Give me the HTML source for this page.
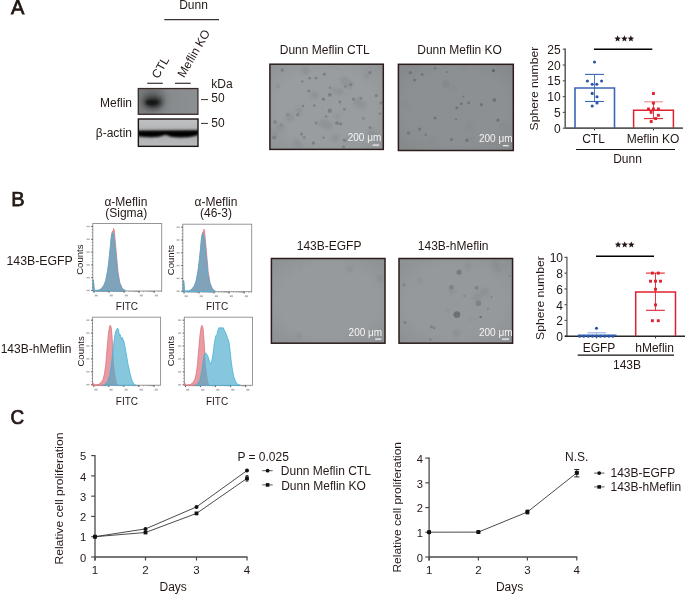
<!DOCTYPE html>
<html><head><meta charset="utf-8"><style>
html,body{margin:0;padding:0;background:#fff;}
svg{display:block;font-family:"Liberation Sans",sans-serif;will-change:transform;}
</style></head><body>
<svg width="685" height="594" viewBox="0 0 685 594">
<rect width="685" height="594" fill="#fff"/>
<text x="11.10" y="14.30" font-size="20" text-anchor="start" font-weight="normal" fill="#231815" stroke="#231815" stroke-width="0.75">A</text>
<text x="193.50" y="8.90" font-size="12" text-anchor="middle" font-weight="normal" fill="#231815" >Dunn</text>
<line x1="164.30" y1="19.60" x2="219.00" y2="19.60" stroke="#3a3230" stroke-width="1.1" />
<text transform="translate(158.2,79.3) rotate(-60)" font-size="12" fill="#231815">CTL</text>
<text transform="translate(184.1,78.3) rotate(-60)" font-size="12" fill="#231815">Meflin KO</text>
<line x1="147.20" y1="83.30" x2="162.80" y2="83.30" stroke="#3a3230" stroke-width="1.2" />
<line x1="175.00" y1="83.30" x2="190.70" y2="83.30" stroke="#3a3230" stroke-width="1.2" />
<text x="211.30" y="88.00" font-size="12" text-anchor="start" font-weight="normal" fill="#231815" >kDa</text>
<line x1="201.00" y1="99.60" x2="208.00" y2="99.60" stroke="#3a3230" stroke-width="1" />
<text x="211.30" y="102.30" font-size="12" text-anchor="start" font-weight="normal" fill="#231815" >50</text>
<line x1="201.00" y1="123.40" x2="208.00" y2="123.40" stroke="#3a3230" stroke-width="1" />
<text x="211.30" y="127.20" font-size="12" text-anchor="start" font-weight="normal" fill="#231815" >50</text>
<text x="132.00" y="106.70" font-size="12" text-anchor="end" font-weight="normal" fill="#231815" >Meflin</text>
<text x="132.00" y="137.00" font-size="12" text-anchor="end" font-weight="normal" fill="#231815" >β-actin</text>
<defs>
<filter id="b2" x="-50%" y="-50%" width="200%" height="200%"><feGaussianBlur stdDeviation="2.2"/></filter>
<filter id="b1" x="-50%" y="-50%" width="200%" height="200%"><feGaussianBlur stdDeviation="1.2"/></filter>
<filter id="b05" x="-50%" y="-50%" width="200%" height="200%"><feGaussianBlur stdDeviation="0.6"/></filter>
<filter id="b08" x="-50%" y="-50%" width="200%" height="200%"><feGaussianBlur stdDeviation="0.75"/></filter>
<filter id="b15" x="-50%" y="-50%" width="200%" height="200%"><feGaussianBlur stdDeviation="1.6"/></filter>
<filter id="b3" x="-50%" y="-50%" width="200%" height="200%"><feGaussianBlur stdDeviation="3.5"/></filter>
<linearGradient id="blot1g" x1="0" x2="1" y1="0" y2="0"><stop offset="0" stop-color="#7a7e80"/><stop offset="0.5" stop-color="#878b8d"/><stop offset="1" stop-color="#8c9092"/></linearGradient>
<linearGradient id="blot2g" x1="0" x2="0" y1="0" y2="1"><stop offset="0" stop-color="#bfc1c2"/><stop offset="0.3" stop-color="#b6b8b9"/><stop offset="0.4" stop-color="#9c9e9f"/><stop offset="0.45" stop-color="#666"/><stop offset="0.52" stop-color="#777"/><stop offset="0.56" stop-color="#a2a4a5"/><stop offset="0.72" stop-color="#b0b2b3"/><stop offset="1" stop-color="#b9bbbc"/></linearGradient>
<clipPath id="cb1"><rect x="138.3" y="88.55" width="59.6" height="25.75"/></clipPath>
<clipPath id="cb2"><rect x="138.35" y="119" width="59.65" height="27.35"/></clipPath>
</defs>
<g clip-path="url(#cb1)"><rect x="138.3" y="88.55" width="59.6" height="25.75" fill="url(#blot1g)"/><ellipse cx="153" cy="100" rx="12" ry="11" fill="#4a4a4a" opacity="0.55" filter="url(#b3)"/><ellipse cx="153" cy="102.3" rx="9" ry="5.5" fill="#262626" opacity="0.9" filter="url(#b2)"/><ellipse cx="152" cy="102.6" rx="5.5" ry="1.8" fill="#080808" filter="url(#b1)"/></g>
<rect x="138.3" y="88.55" width="59.6" height="25.75" fill="none" stroke="#3a2a28" stroke-width="1.3"/>
<g clip-path="url(#cb2)"><rect x="138.35" y="119" width="59.65" height="27.35" fill="url(#blot2g)"/><path d="M136,130.9 L200,130.4 L200,134.0 C196,136.5 188,137.6 180,137.4 C174,137.3 169.5,136.6 167.5,135.4 C166.5,134.8 165,134.8 164,135.3 C161,136.8 156,137.4 150,137.2 C144,137 139,136.4 136,136 Z" fill="#030303" filter="url(#b1)"/></g>
<rect x="138.35" y="119" width="59.65" height="27.35" fill="none" stroke="#1a1616" stroke-width="1.4"/>
<defs><radialGradient id="vig" cx="0.5" cy="0.5" r="0.7"><stop offset="0.6" stop-color="#000" stop-opacity="0"/><stop offset="1" stop-color="#000" stop-opacity="0.06"/></radialGradient></defs>
<clipPath id="cma1"><rect x="269.9" y="64.2" width="113.40" height="85.20"/></clipPath>
<g clip-path="url(#cma1)"><rect x="269.9" y="64.2" width="113.40" height="85.20" fill="#999da0"/>
<rect x="269.9" y="64.2" width="113.40" height="85.20" fill="url(#vig)"/>
<g filter="url(#b15)" opacity="0.5">
<circle cx="299.0" cy="110.2" r="3.2" fill="#868a8d"/>
<circle cx="337.6" cy="116.5" r="2.6" fill="#868a8d"/>
<circle cx="275.3" cy="132.9" r="3.0" fill="#868a8d"/>
<circle cx="298.6" cy="145.1" r="3.4" fill="#868a8d"/>
<circle cx="362.1" cy="105.0" r="3.8" fill="#868a8d"/>
<circle cx="289.8" cy="117.2" r="4.2" fill="#868a8d"/>
<circle cx="329.0" cy="125.4" r="3.8" fill="#868a8d"/>
<circle cx="280.6" cy="126.7" r="3.7" fill="#868a8d"/>
<circle cx="305.7" cy="70.6" r="4.2" fill="#868a8d"/>
<circle cx="323.7" cy="123.7" r="4.3" fill="#868a8d"/>
<circle cx="349.2" cy="139.3" r="3.3" fill="#868a8d"/>
<circle cx="358.3" cy="102.5" r="4.4" fill="#868a8d"/>
<circle cx="366.5" cy="75.7" r="2.8" fill="#868a8d"/>
<circle cx="296.8" cy="142.7" r="3.4" fill="#868a8d"/>
<circle cx="339.9" cy="91.4" r="3.5" fill="#868a8d"/>
<circle cx="314.6" cy="95.3" r="3.7" fill="#868a8d"/>
<circle cx="335.5" cy="138.0" r="3.9" fill="#868a8d"/>
<circle cx="371.8" cy="134.3" r="4.5" fill="#868a8d"/>
<circle cx="344.7" cy="80.8" r="4.2" fill="#868a8d"/>
<circle cx="375.6" cy="138.0" r="3.6" fill="#868a8d"/>
<circle cx="349.1" cy="84.5" r="4.2" fill="#868a8d"/>
<circle cx="334.4" cy="90.2" r="2.6" fill="#868a8d"/>
</g>
<g filter="url(#b08)">
<circle cx="282.3" cy="70.0" r="1.8" fill="#7c8184"/>
<circle cx="324.3" cy="74.2" r="1.6" fill="#7c8184"/>
<circle cx="370.0" cy="72.8" r="1.8" fill="#7c8184"/>
<circle cx="309.7" cy="78.2" r="1.4" fill="#7c8184"/>
<circle cx="316.1" cy="78.2" r="1.4" fill="#7c8184"/>
<circle cx="302.4" cy="81.5" r="1.2" fill="#7c8184"/>
<circle cx="277.8" cy="86.5" r="2.2" fill="#8f9396"/>
<circle cx="350.8" cy="84.6" r="1.6" fill="#7c8184"/>
<circle cx="345.3" cy="86.5" r="1.3" fill="#7c8184"/>
<circle cx="329.8" cy="87.7" r="1.2" fill="#7c8184"/>
<circle cx="308.8" cy="91.0" r="1.6" fill="#7c8184"/>
<circle cx="329.8" cy="94.7" r="2" fill="#7c8184"/>
<circle cx="376.3" cy="95.6" r="1.6" fill="#7c8184"/>
<circle cx="323.4" cy="99.2" r="1.8" fill="#7c8184"/>
<circle cx="353.5" cy="99.2" r="1.6" fill="#7c8184"/>
<circle cx="360.8" cy="98.3" r="1.4" fill="#7c8184"/>
<circle cx="380.9" cy="102.9" r="1.6" fill="#7c8184"/>
<circle cx="339.8" cy="102.0" r="1.4" fill="#7c8184"/>
<circle cx="314.3" cy="105.6" r="1.3" fill="#7c8184"/>
<circle cx="303.0" cy="106.0" r="1.3" fill="#7c8184"/>
<circle cx="329.8" cy="110.7" r="2.2" fill="#7c8184"/>
<circle cx="344.4" cy="109.3" r="1.4" fill="#7c8184"/>
<circle cx="326.1" cy="116.6" r="1.4" fill="#7c8184"/>
<circle cx="380.0" cy="113.8" r="1.4" fill="#7c8184"/>
<circle cx="297.8" cy="114.7" r="1.6" fill="#7c8184"/>
<circle cx="275.0" cy="122.0" r="1.8" fill="#7c8184"/>
<circle cx="281.4" cy="124.8" r="1.6" fill="#888c8f"/>
<circle cx="316.1" cy="123.0" r="1.5" fill="#7c8184"/>
<circle cx="337.1" cy="123.0" r="2" fill="#7c8184"/>
<circle cx="340.7" cy="123.9" r="1.6" fill="#7c8184"/>
<circle cx="363.5" cy="118.4" r="1.8" fill="#8a8e91"/>
<circle cx="370.0" cy="127.5" r="1.5" fill="#7c8184"/>
<circle cx="301.5" cy="133.9" r="1.5" fill="#7c8184"/>
<circle cx="304.2" cy="137.6" r="1.8" fill="#878b8e"/>
<circle cx="274.1" cy="137.6" r="2" fill="#7c8184"/>
<circle cx="313.4" cy="143.0" r="1.8" fill="#7c8184"/>
<circle cx="344.4" cy="140.3" r="1.8" fill="#7c8184"/>
<circle cx="343.5" cy="146.7" r="1.5" fill="#7c8184"/>
<circle cx="323.4" cy="137.6" r="1.2" fill="#7c8184"/>
<circle cx="287.8" cy="114.7" r="1.2" fill="#7c8184"/>
</g>
<g fill="#858a8d">
<circle cx="365.3" cy="146.6" r="0.5"/>
<circle cx="281.6" cy="131.2" r="0.5"/>
<circle cx="316.8" cy="78.4" r="0.5"/>
<circle cx="304.1" cy="128.6" r="0.5"/>
<circle cx="367.4" cy="69.8" r="0.5"/>
<circle cx="339.1" cy="69.8" r="0.5"/>
<circle cx="350.5" cy="93.1" r="0.5"/>
<circle cx="368.3" cy="145.8" r="0.5"/>
<circle cx="327.2" cy="147.3" r="0.5"/>
<circle cx="305.8" cy="72.5" r="0.5"/>
<circle cx="337.5" cy="68.7" r="0.5"/>
<circle cx="293.5" cy="99.3" r="0.5"/>
<circle cx="338.7" cy="78.9" r="0.5"/>
<circle cx="276.5" cy="136.7" r="0.5"/>
<circle cx="306.2" cy="144.0" r="0.5"/>
<circle cx="370.0" cy="96.9" r="0.5"/>
<circle cx="322.3" cy="108.4" r="0.5"/>
<circle cx="342.3" cy="114.6" r="0.5"/>
<circle cx="333.1" cy="116.6" r="0.5"/>
<circle cx="374.8" cy="107.4" r="0.5"/>
<circle cx="319.1" cy="124.7" r="0.5"/>
<circle cx="297.9" cy="90.6" r="0.5"/>
<circle cx="378.9" cy="108.5" r="0.5"/>
<circle cx="331.9" cy="67.1" r="0.5"/>
<circle cx="317.3" cy="113.3" r="0.5"/>
<circle cx="274.1" cy="116.2" r="0.5"/>
<circle cx="341.1" cy="71.1" r="0.5"/>
<circle cx="340.5" cy="104.1" r="0.5"/>
<circle cx="346.2" cy="94.8" r="0.5"/>
<circle cx="349.2" cy="126.1" r="0.5"/>
<circle cx="274.3" cy="71.1" r="0.5"/>
<circle cx="345.9" cy="144.4" r="0.5"/>
<circle cx="299.4" cy="103.3" r="0.5"/>
</g></g>
<rect x="269.9" y="64.2" width="113.40" height="85.20" fill="none" stroke="#2c1d1b" stroke-width="1.5"/>
<clipPath id="cma2"><rect x="398.4" y="64.3" width="114.90" height="86.20"/></clipPath>
<g clip-path="url(#cma2)"><rect x="398.4" y="64.3" width="114.90" height="86.20" fill="#8d9092"/>
<rect x="398.4" y="64.3" width="114.90" height="86.20" fill="url(#vig)"/>
<g filter="url(#b15)" opacity="0.5">
<circle cx="469.0" cy="126.3" r="4.1" fill="#868a8d"/>
<circle cx="503.1" cy="126.2" r="4.3" fill="#868a8d"/>
<circle cx="405.5" cy="104.7" r="4.4" fill="#868a8d"/>
<circle cx="471.8" cy="138.8" r="2.7" fill="#868a8d"/>
<circle cx="452.5" cy="87.6" r="3.6" fill="#868a8d"/>
<circle cx="463.8" cy="69.3" r="2.9" fill="#868a8d"/>
<circle cx="432.3" cy="140.0" r="4.0" fill="#868a8d"/>
<circle cx="419.5" cy="130.6" r="2.8" fill="#868a8d"/>
</g>
<g filter="url(#b08)">
<circle cx="410.3" cy="72.8" r="1.8" fill="#727679"/>
<circle cx="422.2" cy="74.6" r="1.5" fill="#727679"/>
<circle cx="414.5" cy="80.1" r="1.6" fill="#727679"/>
<circle cx="435.0" cy="68.2" r="1.2" fill="#727679"/>
<circle cx="493.4" cy="70.6" r="1.6" fill="#616568"/>
<circle cx="446.8" cy="71.9" r="1" fill="#727679"/>
<circle cx="494.3" cy="100.1" r="2" fill="#6f7376"/>
<circle cx="481.5" cy="104.7" r="1.6" fill="#707477"/>
<circle cx="468.7" cy="102.9" r="1.4" fill="#727679"/>
<circle cx="461.4" cy="103.8" r="1.5" fill="#727679"/>
<circle cx="456.9" cy="107.8" r="1.6" fill="#727679"/>
<circle cx="463.3" cy="96.5" r="1" fill="#727679"/>
<circle cx="435.0" cy="118.0" r="1.6" fill="#727679"/>
<circle cx="456.0" cy="119.3" r="1.1" fill="#727679"/>
<circle cx="497.9" cy="120.2" r="1.6" fill="#707477"/>
<circle cx="419.5" cy="129.0" r="1.5" fill="#727679"/>
<circle cx="408.5" cy="133.0" r="1.5" fill="#727679"/>
<circle cx="425.8" cy="134.8" r="1.2" fill="#727679"/>
<circle cx="451.4" cy="139.4" r="1.5" fill="#727679"/>
<circle cx="466.9" cy="140.3" r="1.8" fill="#727679"/>
<circle cx="445.9" cy="83.7" r="4" fill="#878a8c"/>
</g>
<g fill="#858a8d">
<circle cx="468.9" cy="76.7" r="0.5"/>
<circle cx="400.6" cy="137.9" r="0.5"/>
<circle cx="423.6" cy="84.0" r="0.5"/>
<circle cx="509.4" cy="138.0" r="0.5"/>
<circle cx="432.5" cy="145.3" r="0.5"/>
<circle cx="460.2" cy="122.0" r="0.5"/>
<circle cx="423.1" cy="143.6" r="0.5"/>
<circle cx="477.0" cy="145.8" r="0.5"/>
<circle cx="499.5" cy="90.9" r="0.5"/>
<circle cx="440.5" cy="79.9" r="0.5"/>
<circle cx="416.6" cy="71.7" r="0.5"/>
<circle cx="433.8" cy="115.9" r="0.5"/>
</g></g>
<rect x="398.4" y="64.3" width="114.90" height="86.20" fill="none" stroke="#2c1d1b" stroke-width="1.5"/>
<clipPath id="cmb1"><rect x="271.4" y="258.5" width="113.60" height="84.70"/></clipPath>
<g clip-path="url(#cmb1)"><rect x="271.4" y="258.5" width="113.60" height="84.70" fill="#969a9c"/>
<rect x="271.4" y="258.5" width="113.60" height="84.70" fill="url(#vig)"/>
<g filter="url(#b15)" opacity="0.5">
<circle cx="299.3" cy="336.3" r="2.8" fill="#868a8d"/>
<circle cx="349.8" cy="269.0" r="3.0" fill="#868a8d"/>
<circle cx="380.9" cy="278.6" r="3.8" fill="#868a8d"/>
</g>
<g filter="url(#b08)">
<circle cx="300.0" cy="270.0" r="0.8" fill="#8c9092"/>
<circle cx="330.0" cy="300.0" r="0.7" fill="#8c9092"/>
<circle cx="360.0" cy="290.0" r="0.7" fill="#8c9092"/>
<circle cx="290.0" cy="320.0" r="0.7" fill="#8c9092"/>
<circle cx="370.0" cy="330.0" r="0.8" fill="#8c9092"/>
<circle cx="282.0" cy="300.0" r="0.6" fill="#8c9092"/>
</g>
<g fill="#858a8d">
<circle cx="323.7" cy="297.1" r="0.5"/>
<circle cx="327.7" cy="276.0" r="0.5"/>
<circle cx="364.4" cy="267.7" r="0.5"/>
<circle cx="299.1" cy="262.1" r="0.5"/>
</g></g>
<rect x="271.4" y="258.5" width="113.60" height="84.70" fill="none" stroke="#2c1d1b" stroke-width="1.5"/>
<clipPath id="cmb2"><rect x="399" y="258.5" width="113.60" height="84.70"/></clipPath>
<g clip-path="url(#cmb2)"><rect x="399" y="258.5" width="113.60" height="84.70" fill="#95999b"/>
<rect x="399" y="258.5" width="113.60" height="84.70" fill="url(#vig)"/>
<g filter="url(#b15)" opacity="0.5">
<circle cx="451.9" cy="291.1" r="2.8" fill="#868a8d"/>
<circle cx="494.5" cy="263.0" r="3.5" fill="#868a8d"/>
<circle cx="497.9" cy="268.7" r="3.6" fill="#868a8d"/>
<circle cx="468.1" cy="265.6" r="3.3" fill="#868a8d"/>
<circle cx="477.3" cy="297.2" r="4.0" fill="#868a8d"/>
<circle cx="419.6" cy="280.8" r="2.7" fill="#868a8d"/>
<circle cx="456.5" cy="333.4" r="3.7" fill="#868a8d"/>
<circle cx="484.8" cy="291.9" r="4.0" fill="#868a8d"/>
</g>
<g filter="url(#b08)">
<circle cx="459.1" cy="272.2" r="2.6" fill="#787d80"/>
<circle cx="404.0" cy="285.0" r="1.8" fill="#83888b"/>
<circle cx="451.4" cy="287.2" r="2.3" fill="#7e8386"/>
<circle cx="476.6" cy="287.8" r="2" fill="#7e8386"/>
<circle cx="478.4" cy="303.3" r="2.8" fill="#7e8386"/>
<circle cx="456.9" cy="314.6" r="3.4" fill="#6c7174"/>
<circle cx="447.7" cy="310.9" r="2.5" fill="#90959a"/>
<circle cx="480.6" cy="317.0" r="1.2" fill="#6c7174"/>
<circle cx="404.9" cy="322.4" r="1.5" fill="#7c8184"/>
<circle cx="431.3" cy="327.0" r="1.4" fill="#7c8184"/>
<circle cx="434.0" cy="327.9" r="1.4" fill="#7c8184"/>
<circle cx="430.4" cy="339.8" r="1.2" fill="#7c8184"/>
<circle cx="491.5" cy="296.9" r="1" fill="#7c8184"/>
<circle cx="464.2" cy="296.0" r="1" fill="#7c8184"/>
<circle cx="509.8" cy="275.9" r="1" fill="#7c8184"/>
<circle cx="470.6" cy="319.7" r="2" fill="#90959a"/>
<circle cx="487.9" cy="308.7" r="1" fill="#7c8184"/>
</g>
<g fill="#858a8d">
<circle cx="412.1" cy="284.0" r="0.5"/>
<circle cx="474.9" cy="319.1" r="0.5"/>
<circle cx="447.2" cy="267.6" r="0.5"/>
<circle cx="430.2" cy="277.4" r="0.5"/>
<circle cx="431.8" cy="325.8" r="0.5"/>
<circle cx="422.9" cy="332.0" r="0.5"/>
<circle cx="497.4" cy="264.9" r="0.5"/>
<circle cx="442.5" cy="300.2" r="0.5"/>
<circle cx="403.6" cy="294.8" r="0.5"/>
<circle cx="500.3" cy="269.5" r="0.5"/>
<circle cx="466.4" cy="270.3" r="0.5"/>
<circle cx="464.4" cy="332.8" r="0.5"/>
</g></g>
<rect x="399" y="258.5" width="113.60" height="84.70" fill="none" stroke="#2c1d1b" stroke-width="1.5"/>
<text x="347.70" y="141.10" font-size="10" text-anchor="start" font-weight="normal" fill="#f4f4f4" >200 μm</text>
<line x1="372.70" y1="145.10" x2="379.00" y2="145.10" stroke="#f4f4f4" stroke-width="1.2" />
<text x="479.00" y="141.60" font-size="10" text-anchor="start" font-weight="normal" fill="#f4f4f4" >200 μm</text>
<line x1="502.90" y1="145.70" x2="508.60" y2="145.70" stroke="#f4f4f4" stroke-width="1.2" />
<text x="348.60" y="336.40" font-size="10" text-anchor="start" font-weight="normal" fill="#f4f4f4" >200 μm</text>
<line x1="375.20" y1="339.10" x2="381.30" y2="339.10" stroke="#f4f4f4" stroke-width="1.2" />
<text x="479.00" y="336.40" font-size="10" text-anchor="start" font-weight="normal" fill="#f4f4f4" >200 μm</text>
<line x1="502.00" y1="339.10" x2="509.00" y2="339.10" stroke="#f4f4f4" stroke-width="1.2" />
<text x="324.75" y="53.90" font-size="12" text-anchor="middle" font-weight="normal" fill="#231815" >Dunn Meflin CTL</text>
<text x="459.60" y="53.90" font-size="12" text-anchor="middle" font-weight="normal" fill="#231815" >Dunn Meflin KO</text>
<text x="329.10" y="249.80" font-size="12" text-anchor="middle" font-weight="normal" fill="#231815" >143B-EGFP</text>
<text x="453.15" y="249.80" font-size="12" text-anchor="middle" font-weight="normal" fill="#231815" >143B-hMeflin</text>
<line x1="565.20" y1="48.50" x2="565.20" y2="128.20" stroke="#5a5a5a" stroke-width="1.5" />
<line x1="562.80" y1="128.20" x2="565.20" y2="128.20" stroke="#5a5a5a" stroke-width="1.2" />
<text x="560.70" y="132.80" font-size="12" text-anchor="end" font-weight="normal" fill="#231815" >0</text>
<line x1="562.80" y1="112.40" x2="565.20" y2="112.40" stroke="#5a5a5a" stroke-width="1.2" />
<text x="560.70" y="117.00" font-size="12" text-anchor="end" font-weight="normal" fill="#231815" >5</text>
<line x1="562.80" y1="96.60" x2="565.20" y2="96.60" stroke="#5a5a5a" stroke-width="1.2" />
<text x="560.70" y="101.20" font-size="12" text-anchor="end" font-weight="normal" fill="#231815" >10</text>
<line x1="562.80" y1="80.80" x2="565.20" y2="80.80" stroke="#5a5a5a" stroke-width="1.2" />
<text x="560.70" y="85.40" font-size="12" text-anchor="end" font-weight="normal" fill="#231815" >15</text>
<line x1="562.80" y1="65.00" x2="565.20" y2="65.00" stroke="#5a5a5a" stroke-width="1.2" />
<text x="560.70" y="69.60" font-size="12" text-anchor="end" font-weight="normal" fill="#231815" >20</text>
<line x1="562.80" y1="49.20" x2="565.20" y2="49.20" stroke="#5a5a5a" stroke-width="1.2" />
<text x="560.70" y="53.80" font-size="12" text-anchor="end" font-weight="normal" fill="#231815" >25</text>
<line x1="565.20" y1="128.20" x2="682.80" y2="128.20" stroke="#5a5a5a" stroke-width="1.5" />
<line x1="594.50" y1="128.20" x2="594.50" y2="130.40" stroke="#3a3230" stroke-width="1" />
<line x1="653.50" y1="128.20" x2="653.50" y2="130.40" stroke="#3a3230" stroke-width="1" />
<text transform="translate(538.0,88.6) rotate(-90) scale(1.215,1)" font-size="10" text-anchor="middle" fill="#231815">Sphere number</text>
<path d="M575,128.2 V88 H614.5 V128.2" fill="none" stroke="#3a66b4" stroke-width="1.6"/>
<line x1="594.50" y1="74.40" x2="594.50" y2="101.50" stroke="#3a66b4" stroke-width="0.9" />
<line x1="585.00" y1="74.40" x2="604.00" y2="74.40" stroke="#3a66b4" stroke-width="1.1" />
<line x1="585.00" y1="101.50" x2="604.00" y2="101.50" stroke="#3a66b4" stroke-width="1.1" />
<circle cx="594.5" cy="62" r="1.55" fill="#2a56a6"/>
<circle cx="587.4" cy="81" r="1.55" fill="#2a56a6"/>
<circle cx="601.6" cy="81" r="1.55" fill="#2a56a6"/>
<circle cx="592.2" cy="84.3" r="1.55" fill="#2a56a6"/>
<circle cx="596.8" cy="84.3" r="1.55" fill="#2a56a6"/>
<circle cx="592.2" cy="93.4" r="1.55" fill="#2a56a6"/>
<circle cx="597" cy="96.7" r="1.55" fill="#2a56a6"/>
<circle cx="597" cy="103" r="1.55" fill="#2a56a6"/>
<circle cx="592.2" cy="106" r="1.55" fill="#2a56a6"/>
<path d="M633.6,128.2 V110.2 H673.4 V128.2" fill="none" stroke="#e0222e" stroke-width="1.5"/>
<line x1="653.50" y1="101.80" x2="653.50" y2="118.60" stroke="#e0222e" stroke-width="0.9" />
<line x1="644.00" y1="101.80" x2="663.00" y2="101.80" stroke="#f08a8e" stroke-width="1.1" />
<line x1="644.00" y1="118.60" x2="663.00" y2="118.60" stroke="#e0222e" stroke-width="1.1" />
<rect x="651.95" y="92.05" width="2.9" height="2.9" fill="#e0222e"/>
<rect x="651.95" y="101.65" width="2.9" height="2.9" fill="#e0222e"/>
<rect x="647.05" y="107.55" width="2.9" height="2.9" fill="#e0222e"/>
<rect x="651.95" y="107.55" width="2.9" height="2.9" fill="#e0222e"/>
<rect x="656.95" y="107.55" width="2.9" height="2.9" fill="#e0222e"/>
<rect x="649.65" y="110.85" width="2.9" height="2.9" fill="#e0222e"/>
<rect x="656.95" y="113.85" width="2.9" height="2.9" fill="#e0222e"/>
<rect x="654.15" y="117.15" width="2.9" height="2.9" fill="#e0222e"/>
<rect x="649.75" y="120.05" width="2.9" height="2.9" fill="#e0222e"/>
<line x1="565.20" y1="128.20" x2="682.80" y2="128.20" stroke="#5a5a5a" stroke-width="1.5" />
<line x1="594.00" y1="49.20" x2="652.30" y2="49.20" stroke="#000" stroke-width="1.35" />
<polygon points="617.60,35.30 618.50,37.46 620.83,37.65 619.06,39.17 619.60,41.45 617.60,40.23 615.60,41.45 616.14,39.17 614.37,37.65 616.70,37.46" fill="#231815"/>
<polygon points="624.40,35.30 625.30,37.46 627.63,37.65 625.86,39.17 626.40,41.45 624.40,40.23 622.40,41.45 622.94,39.17 621.17,37.65 623.50,37.46" fill="#231815"/>
<polygon points="630.90,35.30 631.80,37.46 634.13,37.65 632.36,39.17 632.90,41.45 630.90,40.23 628.90,41.45 629.44,39.17 627.67,37.65 630.00,37.46" fill="#231815"/>
<text x="593.50" y="142.50" font-size="12" text-anchor="middle" font-weight="normal" fill="#231815" >CTL</text>
<text x="653.00" y="142.50" font-size="12" text-anchor="middle" font-weight="normal" fill="#231815" >Meflin KO</text>
<line x1="576.00" y1="149.50" x2="675.00" y2="149.50" stroke="#111" stroke-width="1.2" />
<text x="627.50" y="162.60" font-size="12" text-anchor="middle" font-weight="normal" fill="#231815" >Dunn</text>
<line x1="566.90" y1="256.70" x2="566.90" y2="336.20" stroke="#7c7c7c" stroke-width="1.6" />
<line x1="564.50" y1="336.20" x2="566.90" y2="336.20" stroke="#555" stroke-width="1.2" />
<text x="563.00" y="341.20" font-size="12" text-anchor="end" font-weight="normal" fill="#231815" >0</text>
<line x1="564.50" y1="320.44" x2="566.90" y2="320.44" stroke="#555" stroke-width="1.2" />
<text x="563.00" y="325.44" font-size="12" text-anchor="end" font-weight="normal" fill="#231815" >2</text>
<line x1="564.50" y1="304.68" x2="566.90" y2="304.68" stroke="#555" stroke-width="1.2" />
<text x="563.00" y="309.68" font-size="12" text-anchor="end" font-weight="normal" fill="#231815" >4</text>
<line x1="564.50" y1="288.92" x2="566.90" y2="288.92" stroke="#555" stroke-width="1.2" />
<text x="563.00" y="293.92" font-size="12" text-anchor="end" font-weight="normal" fill="#231815" >6</text>
<line x1="564.50" y1="273.16" x2="566.90" y2="273.16" stroke="#555" stroke-width="1.2" />
<text x="563.00" y="278.16" font-size="12" text-anchor="end" font-weight="normal" fill="#231815" >8</text>
<line x1="564.50" y1="257.40" x2="566.90" y2="257.40" stroke="#555" stroke-width="1.2" />
<text x="563.00" y="262.40" font-size="12" text-anchor="end" font-weight="normal" fill="#231815" >10</text>
<line x1="564.90" y1="336.20" x2="685.00" y2="336.20" stroke="#262626" stroke-width="1.4" />
<line x1="596.50" y1="336.20" x2="596.50" y2="338.40" stroke="#3a3230" stroke-width="1" />
<line x1="655.50" y1="336.20" x2="655.50" y2="338.40" stroke="#3a3230" stroke-width="1" />
<text transform="translate(544.0,298.1) rotate(-90) scale(1.215,1)" font-size="10" text-anchor="middle" fill="#231815">Sphere number</text>
<line x1="577.90" y1="335.30" x2="616.60" y2="335.30" stroke="#3a66b4" stroke-width="1.4" />
<line x1="596.50" y1="332.80" x2="596.50" y2="336.00" stroke="#8fb0e0" stroke-width="0.9" />
<line x1="587.40" y1="332.80" x2="606.00" y2="332.80" stroke="#8fb0e0" stroke-width="1.1" />
<circle cx="579.7" cy="336.2" r="1.5" fill="#2a56a6"/>
<circle cx="583.7" cy="336.2" r="1.5" fill="#2a56a6"/>
<circle cx="588.3" cy="336.2" r="1.5" fill="#2a56a6"/>
<circle cx="592.5" cy="336.2" r="1.5" fill="#2a56a6"/>
<circle cx="596.5" cy="336.2" r="1.5" fill="#2a56a6"/>
<circle cx="600.5" cy="336.2" r="1.5" fill="#2a56a6"/>
<circle cx="604.7" cy="336.2" r="1.5" fill="#2a56a6"/>
<circle cx="608.9" cy="336.2" r="1.5" fill="#2a56a6"/>
<circle cx="612.9" cy="336.2" r="1.5" fill="#2a56a6"/>
<circle cx="596.5" cy="328.2" r="1.55" fill="#2a56a6"/>
<path d="M635.7,336.2 V292 H675.5 V336.2" fill="none" stroke="#e0222e" stroke-width="1.5"/>
<line x1="655.50" y1="273.10" x2="655.50" y2="310.30" stroke="#e0222e" stroke-width="0.9" />
<line x1="645.90" y1="273.10" x2="664.80" y2="273.10" stroke="#e0222e" stroke-width="1.1" />
<line x1="645.90" y1="310.30" x2="664.80" y2="310.30" stroke="#e0222e" stroke-width="1.1" />
<rect x="650.95" y="271.65" width="2.9" height="2.9" fill="#e0222e"/>
<rect x="656.85" y="271.65" width="2.9" height="2.9" fill="#e0222e"/>
<rect x="649.05" y="279.75" width="2.9" height="2.9" fill="#e0222e"/>
<rect x="654.05" y="279.75" width="2.9" height="2.9" fill="#e0222e"/>
<rect x="659.05" y="279.75" width="2.9" height="2.9" fill="#e0222e"/>
<rect x="654.05" y="287.85" width="2.9" height="2.9" fill="#e0222e"/>
<rect x="654.05" y="303.45" width="2.9" height="2.9" fill="#e0222e"/>
<rect x="650.95" y="319.25" width="2.9" height="2.9" fill="#e0222e"/>
<rect x="656.85" y="319.25" width="2.9" height="2.9" fill="#e0222e"/>
<line x1="596.00" y1="256.20" x2="654.00" y2="256.20" stroke="#000" stroke-width="1.35" />
<polygon points="618.10,241.40 619.00,243.56 621.33,243.75 619.56,245.27 620.10,247.55 618.10,246.33 616.10,247.55 616.64,245.27 614.87,243.75 617.20,243.56" fill="#231815"/>
<polygon points="624.70,241.40 625.60,243.56 627.93,243.75 626.16,245.27 626.70,247.55 624.70,246.33 622.70,247.55 623.24,245.27 621.47,243.75 623.80,243.56" fill="#231815"/>
<polygon points="631.30,241.40 632.20,243.56 634.53,243.75 632.76,245.27 633.30,247.55 631.30,246.33 629.30,247.55 629.84,245.27 628.07,243.75 630.40,243.56" fill="#231815"/>
<text x="599.00" y="352.00" font-size="12" text-anchor="middle" font-weight="normal" fill="#231815" >EGFP</text>
<text x="654.60" y="352.00" font-size="12" text-anchor="middle" font-weight="normal" fill="#231815" >hMeflin</text>
<line x1="577.70" y1="355.20" x2="674.00" y2="355.20" stroke="#111" stroke-width="1.2" />
<text x="627.00" y="368.80" font-size="12" text-anchor="middle" font-weight="normal" fill="#231815" >143B</text>
<text x="11.20" y="205.70" font-size="20" text-anchor="start" font-weight="normal" fill="#231815" stroke="#231815" stroke-width="0.75">B</text>
<text x="125.90" y="205.50" font-size="12" text-anchor="middle" font-weight="normal" fill="#231815" >α-Meflin</text>
<text x="126.30" y="217.00" font-size="12" text-anchor="middle" font-weight="normal" fill="#231815" >(Sigma)</text>
<text x="216.00" y="205.50" font-size="12" text-anchor="middle" font-weight="normal" fill="#231815" >α-Meflin</text>
<text x="216.00" y="217.00" font-size="12" text-anchor="middle" font-weight="normal" fill="#231815" >(46-3)</text>
<text x="6.50" y="265.10" font-size="12.3" text-anchor="start" font-weight="normal" fill="#231815" >143B-EGFP</text>
<text x="0.70" y="352.80" font-size="12" text-anchor="start" font-weight="normal" fill="#231815" >143B-hMeflin</text>
<rect x="92.8" y="223.5" width="68.90" height="67.50" fill="none" stroke="#8c8c8c" stroke-width="0.9"/>
<line x1="91.20" y1="290.50" x2="92.80" y2="290.50" stroke="#444" stroke-width="0.9" />
<rect x="86.50" y="289.80" width="3.2" height="1.4" fill="#b4b4b4"/>
<line x1="91.80" y1="287.30" x2="92.80" y2="287.30" stroke="#666" stroke-width="0.7" />
<line x1="91.80" y1="284.10" x2="92.80" y2="284.10" stroke="#666" stroke-width="0.7" />
<line x1="91.80" y1="280.90" x2="92.80" y2="280.90" stroke="#666" stroke-width="0.7" />
<line x1="91.20" y1="277.70" x2="92.80" y2="277.70" stroke="#444" stroke-width="0.9" />
<rect x="86.50" y="277.00" width="3.2" height="1.4" fill="#b4b4b4"/>
<line x1="91.80" y1="274.50" x2="92.80" y2="274.50" stroke="#666" stroke-width="0.7" />
<line x1="91.80" y1="271.30" x2="92.80" y2="271.30" stroke="#666" stroke-width="0.7" />
<line x1="91.80" y1="268.10" x2="92.80" y2="268.10" stroke="#666" stroke-width="0.7" />
<line x1="91.20" y1="264.90" x2="92.80" y2="264.90" stroke="#444" stroke-width="0.9" />
<rect x="86.50" y="264.20" width="3.2" height="1.4" fill="#b4b4b4"/>
<line x1="91.80" y1="261.70" x2="92.80" y2="261.70" stroke="#666" stroke-width="0.7" />
<line x1="91.80" y1="258.50" x2="92.80" y2="258.50" stroke="#666" stroke-width="0.7" />
<line x1="91.80" y1="255.30" x2="92.80" y2="255.30" stroke="#666" stroke-width="0.7" />
<line x1="91.20" y1="252.10" x2="92.80" y2="252.10" stroke="#444" stroke-width="0.9" />
<rect x="86.50" y="251.40" width="3.2" height="1.4" fill="#b4b4b4"/>
<line x1="91.80" y1="248.90" x2="92.80" y2="248.90" stroke="#666" stroke-width="0.7" />
<line x1="91.80" y1="245.70" x2="92.80" y2="245.70" stroke="#666" stroke-width="0.7" />
<line x1="91.80" y1="242.50" x2="92.80" y2="242.50" stroke="#666" stroke-width="0.7" />
<line x1="91.20" y1="239.30" x2="92.80" y2="239.30" stroke="#444" stroke-width="0.9" />
<rect x="86.50" y="238.60" width="3.2" height="1.4" fill="#b4b4b4"/>
<line x1="91.80" y1="236.10" x2="92.80" y2="236.10" stroke="#666" stroke-width="0.7" />
<line x1="91.80" y1="232.90" x2="92.80" y2="232.90" stroke="#666" stroke-width="0.7" />
<line x1="91.80" y1="229.70" x2="92.80" y2="229.70" stroke="#666" stroke-width="0.7" />
<line x1="91.20" y1="226.50" x2="92.80" y2="226.50" stroke="#444" stroke-width="0.9" />
<rect x="86.50" y="225.80" width="3.2" height="1.4" fill="#b4b4b4"/>
<line x1="94.00" y1="291.00" x2="94.00" y2="292.80" stroke="#444" stroke-width="0.9" />
<rect x="94.60" y="294.60" width="3.2" height="1.8" fill="#b8b8b8"/>
<line x1="98.53" y1="291.00" x2="98.53" y2="292.00" stroke="#777" stroke-width="0.6" />
<line x1="101.18" y1="291.00" x2="101.18" y2="292.00" stroke="#777" stroke-width="0.6" />
<line x1="103.06" y1="291.00" x2="103.06" y2="292.00" stroke="#777" stroke-width="0.6" />
<line x1="104.52" y1="291.00" x2="104.52" y2="292.00" stroke="#777" stroke-width="0.6" />
<line x1="105.71" y1="291.00" x2="105.71" y2="292.00" stroke="#777" stroke-width="0.6" />
<line x1="106.72" y1="291.00" x2="106.72" y2="292.00" stroke="#777" stroke-width="0.6" />
<line x1="107.59" y1="291.00" x2="107.59" y2="292.00" stroke="#777" stroke-width="0.6" />
<line x1="108.36" y1="291.00" x2="108.36" y2="292.00" stroke="#777" stroke-width="0.6" />
<line x1="109.05" y1="291.00" x2="109.05" y2="292.80" stroke="#444" stroke-width="0.9" />
<rect x="109.65" y="294.60" width="3.2" height="1.8" fill="#b8b8b8"/>
<line x1="113.58" y1="291.00" x2="113.58" y2="292.00" stroke="#777" stroke-width="0.6" />
<line x1="116.23" y1="291.00" x2="116.23" y2="292.00" stroke="#777" stroke-width="0.6" />
<line x1="118.11" y1="291.00" x2="118.11" y2="292.00" stroke="#777" stroke-width="0.6" />
<line x1="119.57" y1="291.00" x2="119.57" y2="292.00" stroke="#777" stroke-width="0.6" />
<line x1="120.76" y1="291.00" x2="120.76" y2="292.00" stroke="#777" stroke-width="0.6" />
<line x1="121.77" y1="291.00" x2="121.77" y2="292.00" stroke="#777" stroke-width="0.6" />
<line x1="122.64" y1="291.00" x2="122.64" y2="292.00" stroke="#777" stroke-width="0.6" />
<line x1="123.41" y1="291.00" x2="123.41" y2="292.00" stroke="#777" stroke-width="0.6" />
<line x1="124.10" y1="291.00" x2="124.10" y2="292.80" stroke="#444" stroke-width="0.9" />
<rect x="124.70" y="294.60" width="3.2" height="1.8" fill="#b8b8b8"/>
<line x1="128.63" y1="291.00" x2="128.63" y2="292.00" stroke="#777" stroke-width="0.6" />
<line x1="131.28" y1="291.00" x2="131.28" y2="292.00" stroke="#777" stroke-width="0.6" />
<line x1="133.16" y1="291.00" x2="133.16" y2="292.00" stroke="#777" stroke-width="0.6" />
<line x1="134.62" y1="291.00" x2="134.62" y2="292.00" stroke="#777" stroke-width="0.6" />
<line x1="135.81" y1="291.00" x2="135.81" y2="292.00" stroke="#777" stroke-width="0.6" />
<line x1="136.82" y1="291.00" x2="136.82" y2="292.00" stroke="#777" stroke-width="0.6" />
<line x1="137.69" y1="291.00" x2="137.69" y2="292.00" stroke="#777" stroke-width="0.6" />
<line x1="138.46" y1="291.00" x2="138.46" y2="292.00" stroke="#777" stroke-width="0.6" />
<line x1="139.15" y1="291.00" x2="139.15" y2="292.80" stroke="#444" stroke-width="0.9" />
<rect x="139.75" y="294.60" width="3.2" height="1.8" fill="#b8b8b8"/>
<line x1="143.68" y1="291.00" x2="143.68" y2="292.00" stroke="#777" stroke-width="0.6" />
<line x1="146.33" y1="291.00" x2="146.33" y2="292.00" stroke="#777" stroke-width="0.6" />
<line x1="148.21" y1="291.00" x2="148.21" y2="292.00" stroke="#777" stroke-width="0.6" />
<line x1="149.67" y1="291.00" x2="149.67" y2="292.00" stroke="#777" stroke-width="0.6" />
<line x1="150.86" y1="291.00" x2="150.86" y2="292.00" stroke="#777" stroke-width="0.6" />
<line x1="151.87" y1="291.00" x2="151.87" y2="292.00" stroke="#777" stroke-width="0.6" />
<line x1="152.74" y1="291.00" x2="152.74" y2="292.00" stroke="#777" stroke-width="0.6" />
<line x1="153.51" y1="291.00" x2="153.51" y2="292.00" stroke="#777" stroke-width="0.6" />
<line x1="154.20" y1="291.00" x2="154.20" y2="292.80" stroke="#444" stroke-width="0.9" />
<rect x="154.80" y="294.60" width="3.2" height="1.8" fill="#b8b8b8"/>
<line x1="158.73" y1="291.00" x2="158.73" y2="292.00" stroke="#777" stroke-width="0.6" />
<line x1="161.38" y1="291.00" x2="161.38" y2="292.00" stroke="#777" stroke-width="0.6" />
<clipPath id="hc1"><path d="M93.20,291.00 L93.20,290.90 L93.30,279.85 L94.40,290.51 L98.50,290.22 L101.10,288.96 L103.70,285.76 L105.70,280.72 L107.70,270.53 L109.00,260.35 L110.30,247.54 L111.30,237.46 L112.10,234.06 L112.80,232.80 L113.50,233.96 L114.30,240.07 L115.20,249.39 L116.20,259.09 L117.40,271.99 L119.40,282.85 L122.00,288.67 L125.40,290.90 L125.40,291.00 Z"/></clipPath>
<path d="M93.20,291.00 L93.20,290.90 L93.30,279.85 L94.40,290.51 L98.50,290.22 L101.10,288.96 L103.70,285.76 L105.70,280.72 L107.70,270.53 L109.00,260.35 L110.30,247.54 L111.30,236.10 L112.00,232.31 L112.60,231.05 L113.10,231.83 L113.70,228.53 L114.30,230.67 L115.00,238.13 L115.80,247.35 L116.70,257.15 L117.90,271.02 L119.80,282.46 L122.40,288.48 L125.60,290.90 L125.60,291.00 Z" fill="rgb(233,155,161)" stroke="#da6a74" stroke-width="0.7" stroke-linejoin="round"/>
<path d="M93.20,291.00 L93.20,290.90 L93.30,279.85 L94.40,290.51 L98.50,290.22 L101.10,288.96 L103.70,285.76 L105.70,280.72 L107.70,270.53 L109.00,260.35 L110.30,247.54 L111.30,237.46 L112.10,234.06 L112.80,232.80 L113.50,233.96 L114.30,240.07 L115.20,249.39 L116.20,259.09 L117.40,271.99 L119.40,282.85 L122.00,288.67 L125.40,290.90 L125.40,291.00 Z" fill="rgb(135,199,222)"/>
<path d="M93.20,291.00 L93.20,290.90 L93.30,279.85 L94.40,290.51 L98.50,290.22 L101.10,288.96 L103.70,285.76 L105.70,280.72 L107.70,270.53 L109.00,260.35 L110.30,247.54 L111.30,236.10 L112.00,232.31 L112.60,231.05 L113.10,231.83 L113.70,228.53 L114.30,230.67 L115.00,238.13 L115.80,247.35 L116.70,257.15 L117.90,271.02 L119.80,282.46 L122.40,288.48 L125.60,290.90 L125.60,291.00 Z" fill="rgb(128,163,186)" clip-path="url(#hc1)"/>
<path d="M93.20,291.00 L93.20,290.90 L93.30,279.85 L94.40,290.51 L98.50,290.22 L101.10,288.96 L103.70,285.76 L105.70,280.72 L107.70,270.53 L109.00,260.35 L110.30,247.54 L111.30,237.46 L112.10,234.06 L112.80,232.80 L113.50,233.96 L114.30,240.07 L115.20,249.39 L116.20,259.09 L117.40,271.99 L119.40,282.85 L122.00,288.67 L125.40,290.90 L125.40,291.00 Z" fill="none" stroke="#3aaed6" stroke-width="0.7" stroke-linejoin="round"/>
<rect x="182.8" y="224.2" width="68.90" height="67.50" fill="none" stroke="#8c8c8c" stroke-width="0.9"/>
<line x1="181.20" y1="291.20" x2="182.80" y2="291.20" stroke="#444" stroke-width="0.9" />
<rect x="176.50" y="290.50" width="3.2" height="1.4" fill="#b4b4b4"/>
<line x1="181.80" y1="288.00" x2="182.80" y2="288.00" stroke="#666" stroke-width="0.7" />
<line x1="181.80" y1="284.80" x2="182.80" y2="284.80" stroke="#666" stroke-width="0.7" />
<line x1="181.80" y1="281.60" x2="182.80" y2="281.60" stroke="#666" stroke-width="0.7" />
<line x1="181.20" y1="278.40" x2="182.80" y2="278.40" stroke="#444" stroke-width="0.9" />
<rect x="176.50" y="277.70" width="3.2" height="1.4" fill="#b4b4b4"/>
<line x1="181.80" y1="275.20" x2="182.80" y2="275.20" stroke="#666" stroke-width="0.7" />
<line x1="181.80" y1="272.00" x2="182.80" y2="272.00" stroke="#666" stroke-width="0.7" />
<line x1="181.80" y1="268.80" x2="182.80" y2="268.80" stroke="#666" stroke-width="0.7" />
<line x1="181.20" y1="265.60" x2="182.80" y2="265.60" stroke="#444" stroke-width="0.9" />
<rect x="176.50" y="264.90" width="3.2" height="1.4" fill="#b4b4b4"/>
<line x1="181.80" y1="262.40" x2="182.80" y2="262.40" stroke="#666" stroke-width="0.7" />
<line x1="181.80" y1="259.20" x2="182.80" y2="259.20" stroke="#666" stroke-width="0.7" />
<line x1="181.80" y1="256.00" x2="182.80" y2="256.00" stroke="#666" stroke-width="0.7" />
<line x1="181.20" y1="252.80" x2="182.80" y2="252.80" stroke="#444" stroke-width="0.9" />
<rect x="176.50" y="252.10" width="3.2" height="1.4" fill="#b4b4b4"/>
<line x1="181.80" y1="249.60" x2="182.80" y2="249.60" stroke="#666" stroke-width="0.7" />
<line x1="181.80" y1="246.40" x2="182.80" y2="246.40" stroke="#666" stroke-width="0.7" />
<line x1="181.80" y1="243.20" x2="182.80" y2="243.20" stroke="#666" stroke-width="0.7" />
<line x1="181.20" y1="240.00" x2="182.80" y2="240.00" stroke="#444" stroke-width="0.9" />
<rect x="176.50" y="239.30" width="3.2" height="1.4" fill="#b4b4b4"/>
<line x1="181.80" y1="236.80" x2="182.80" y2="236.80" stroke="#666" stroke-width="0.7" />
<line x1="181.80" y1="233.60" x2="182.80" y2="233.60" stroke="#666" stroke-width="0.7" />
<line x1="181.80" y1="230.40" x2="182.80" y2="230.40" stroke="#666" stroke-width="0.7" />
<line x1="181.20" y1="227.20" x2="182.80" y2="227.20" stroke="#444" stroke-width="0.9" />
<rect x="176.50" y="226.50" width="3.2" height="1.4" fill="#b4b4b4"/>
<line x1="184.00" y1="291.70" x2="184.00" y2="293.50" stroke="#444" stroke-width="0.9" />
<rect x="184.60" y="295.30" width="3.2" height="1.8" fill="#b8b8b8"/>
<line x1="188.53" y1="291.70" x2="188.53" y2="292.70" stroke="#777" stroke-width="0.6" />
<line x1="191.18" y1="291.70" x2="191.18" y2="292.70" stroke="#777" stroke-width="0.6" />
<line x1="193.06" y1="291.70" x2="193.06" y2="292.70" stroke="#777" stroke-width="0.6" />
<line x1="194.52" y1="291.70" x2="194.52" y2="292.70" stroke="#777" stroke-width="0.6" />
<line x1="195.71" y1="291.70" x2="195.71" y2="292.70" stroke="#777" stroke-width="0.6" />
<line x1="196.72" y1="291.70" x2="196.72" y2="292.70" stroke="#777" stroke-width="0.6" />
<line x1="197.59" y1="291.70" x2="197.59" y2="292.70" stroke="#777" stroke-width="0.6" />
<line x1="198.36" y1="291.70" x2="198.36" y2="292.70" stroke="#777" stroke-width="0.6" />
<line x1="199.05" y1="291.70" x2="199.05" y2="293.50" stroke="#444" stroke-width="0.9" />
<rect x="199.65" y="295.30" width="3.2" height="1.8" fill="#b8b8b8"/>
<line x1="203.58" y1="291.70" x2="203.58" y2="292.70" stroke="#777" stroke-width="0.6" />
<line x1="206.23" y1="291.70" x2="206.23" y2="292.70" stroke="#777" stroke-width="0.6" />
<line x1="208.11" y1="291.70" x2="208.11" y2="292.70" stroke="#777" stroke-width="0.6" />
<line x1="209.57" y1="291.70" x2="209.57" y2="292.70" stroke="#777" stroke-width="0.6" />
<line x1="210.76" y1="291.70" x2="210.76" y2="292.70" stroke="#777" stroke-width="0.6" />
<line x1="211.77" y1="291.70" x2="211.77" y2="292.70" stroke="#777" stroke-width="0.6" />
<line x1="212.64" y1="291.70" x2="212.64" y2="292.70" stroke="#777" stroke-width="0.6" />
<line x1="213.41" y1="291.70" x2="213.41" y2="292.70" stroke="#777" stroke-width="0.6" />
<line x1="214.10" y1="291.70" x2="214.10" y2="293.50" stroke="#444" stroke-width="0.9" />
<rect x="214.70" y="295.30" width="3.2" height="1.8" fill="#b8b8b8"/>
<line x1="218.63" y1="291.70" x2="218.63" y2="292.70" stroke="#777" stroke-width="0.6" />
<line x1="221.28" y1="291.70" x2="221.28" y2="292.70" stroke="#777" stroke-width="0.6" />
<line x1="223.16" y1="291.70" x2="223.16" y2="292.70" stroke="#777" stroke-width="0.6" />
<line x1="224.62" y1="291.70" x2="224.62" y2="292.70" stroke="#777" stroke-width="0.6" />
<line x1="225.81" y1="291.70" x2="225.81" y2="292.70" stroke="#777" stroke-width="0.6" />
<line x1="226.82" y1="291.70" x2="226.82" y2="292.70" stroke="#777" stroke-width="0.6" />
<line x1="227.69" y1="291.70" x2="227.69" y2="292.70" stroke="#777" stroke-width="0.6" />
<line x1="228.46" y1="291.70" x2="228.46" y2="292.70" stroke="#777" stroke-width="0.6" />
<line x1="229.15" y1="291.70" x2="229.15" y2="293.50" stroke="#444" stroke-width="0.9" />
<rect x="229.75" y="295.30" width="3.2" height="1.8" fill="#b8b8b8"/>
<line x1="233.68" y1="291.70" x2="233.68" y2="292.70" stroke="#777" stroke-width="0.6" />
<line x1="236.33" y1="291.70" x2="236.33" y2="292.70" stroke="#777" stroke-width="0.6" />
<line x1="238.21" y1="291.70" x2="238.21" y2="292.70" stroke="#777" stroke-width="0.6" />
<line x1="239.67" y1="291.70" x2="239.67" y2="292.70" stroke="#777" stroke-width="0.6" />
<line x1="240.86" y1="291.70" x2="240.86" y2="292.70" stroke="#777" stroke-width="0.6" />
<line x1="241.87" y1="291.70" x2="241.87" y2="292.70" stroke="#777" stroke-width="0.6" />
<line x1="242.74" y1="291.70" x2="242.74" y2="292.70" stroke="#777" stroke-width="0.6" />
<line x1="243.51" y1="291.70" x2="243.51" y2="292.70" stroke="#777" stroke-width="0.6" />
<line x1="244.20" y1="291.70" x2="244.20" y2="293.50" stroke="#444" stroke-width="0.9" />
<rect x="244.80" y="295.30" width="3.2" height="1.8" fill="#b8b8b8"/>
<line x1="248.73" y1="291.70" x2="248.73" y2="292.70" stroke="#777" stroke-width="0.6" />
<line x1="251.38" y1="291.70" x2="251.38" y2="292.70" stroke="#777" stroke-width="0.6" />
<clipPath id="hc2"><path d="M183.50,291.70 L183.50,291.60 L183.60,280.55 L184.70,291.21 L188.80,290.92 L191.40,289.66 L194.00,286.46 L196.00,281.42 L198.00,271.23 L199.30,261.05 L200.60,248.24 L201.60,238.16 L202.40,234.76 L203.10,233.50 L203.80,234.66 L204.60,240.77 L205.50,250.09 L206.50,259.79 L207.70,272.69 L209.70,283.55 L212.30,289.37 L215.70,291.60 L215.70,291.70 Z"/></clipPath>
<path d="M183.50,291.70 L183.50,291.60 L183.60,280.55 L184.70,291.21 L188.80,290.92 L191.40,289.66 L194.00,286.46 L196.00,281.42 L198.00,271.23 L199.30,261.05 L200.60,248.24 L201.60,236.80 L202.30,233.01 L202.90,231.75 L203.40,232.53 L204.00,229.23 L204.60,231.37 L205.30,238.83 L206.10,248.05 L207.00,257.85 L208.20,271.72 L210.10,283.16 L212.70,289.18 L215.90,291.60 L215.90,291.70 Z" fill="rgb(233,155,161)" stroke="#da6a74" stroke-width="0.7" stroke-linejoin="round"/>
<path d="M183.50,291.70 L183.50,291.60 L183.60,280.55 L184.70,291.21 L188.80,290.92 L191.40,289.66 L194.00,286.46 L196.00,281.42 L198.00,271.23 L199.30,261.05 L200.60,248.24 L201.60,238.16 L202.40,234.76 L203.10,233.50 L203.80,234.66 L204.60,240.77 L205.50,250.09 L206.50,259.79 L207.70,272.69 L209.70,283.55 L212.30,289.37 L215.70,291.60 L215.70,291.70 Z" fill="rgb(135,199,222)"/>
<path d="M183.50,291.70 L183.50,291.60 L183.60,280.55 L184.70,291.21 L188.80,290.92 L191.40,289.66 L194.00,286.46 L196.00,281.42 L198.00,271.23 L199.30,261.05 L200.60,248.24 L201.60,236.80 L202.30,233.01 L202.90,231.75 L203.40,232.53 L204.00,229.23 L204.60,231.37 L205.30,238.83 L206.10,248.05 L207.00,257.85 L208.20,271.72 L210.10,283.16 L212.70,289.18 L215.90,291.60 L215.90,291.70 Z" fill="rgb(128,163,186)" clip-path="url(#hc2)"/>
<path d="M183.50,291.70 L183.50,291.60 L183.60,280.55 L184.70,291.21 L188.80,290.92 L191.40,289.66 L194.00,286.46 L196.00,281.42 L198.00,271.23 L199.30,261.05 L200.60,248.24 L201.60,238.16 L202.40,234.76 L203.10,233.50 L203.80,234.66 L204.60,240.77 L205.50,250.09 L206.50,259.79 L207.70,272.69 L209.70,283.55 L212.30,289.37 L215.70,291.60 L215.70,291.70 Z" fill="none" stroke="#3aaed6" stroke-width="0.7" stroke-linejoin="round"/>
<rect x="92.6" y="317.2" width="68.00" height="68.00" fill="none" stroke="#8c8c8c" stroke-width="0.9"/>
<line x1="91.00" y1="384.70" x2="92.60" y2="384.70" stroke="#444" stroke-width="0.9" />
<rect x="86.30" y="384.00" width="3.2" height="1.4" fill="#b4b4b4"/>
<line x1="91.60" y1="381.47" x2="92.60" y2="381.47" stroke="#666" stroke-width="0.7" />
<line x1="91.60" y1="378.25" x2="92.60" y2="378.25" stroke="#666" stroke-width="0.7" />
<line x1="91.60" y1="375.02" x2="92.60" y2="375.02" stroke="#666" stroke-width="0.7" />
<line x1="91.00" y1="371.80" x2="92.60" y2="371.80" stroke="#444" stroke-width="0.9" />
<rect x="86.30" y="371.10" width="3.2" height="1.4" fill="#b4b4b4"/>
<line x1="91.60" y1="368.57" x2="92.60" y2="368.57" stroke="#666" stroke-width="0.7" />
<line x1="91.60" y1="365.35" x2="92.60" y2="365.35" stroke="#666" stroke-width="0.7" />
<line x1="91.60" y1="362.12" x2="92.60" y2="362.12" stroke="#666" stroke-width="0.7" />
<line x1="91.00" y1="358.90" x2="92.60" y2="358.90" stroke="#444" stroke-width="0.9" />
<rect x="86.30" y="358.20" width="3.2" height="1.4" fill="#b4b4b4"/>
<line x1="91.60" y1="355.67" x2="92.60" y2="355.67" stroke="#666" stroke-width="0.7" />
<line x1="91.60" y1="352.45" x2="92.60" y2="352.45" stroke="#666" stroke-width="0.7" />
<line x1="91.60" y1="349.22" x2="92.60" y2="349.22" stroke="#666" stroke-width="0.7" />
<line x1="91.00" y1="346.00" x2="92.60" y2="346.00" stroke="#444" stroke-width="0.9" />
<rect x="86.30" y="345.30" width="3.2" height="1.4" fill="#b4b4b4"/>
<line x1="91.60" y1="342.77" x2="92.60" y2="342.77" stroke="#666" stroke-width="0.7" />
<line x1="91.60" y1="339.55" x2="92.60" y2="339.55" stroke="#666" stroke-width="0.7" />
<line x1="91.60" y1="336.32" x2="92.60" y2="336.32" stroke="#666" stroke-width="0.7" />
<line x1="91.00" y1="333.10" x2="92.60" y2="333.10" stroke="#444" stroke-width="0.9" />
<rect x="86.30" y="332.40" width="3.2" height="1.4" fill="#b4b4b4"/>
<line x1="91.60" y1="329.87" x2="92.60" y2="329.87" stroke="#666" stroke-width="0.7" />
<line x1="91.60" y1="326.65" x2="92.60" y2="326.65" stroke="#666" stroke-width="0.7" />
<line x1="91.60" y1="323.42" x2="92.60" y2="323.42" stroke="#666" stroke-width="0.7" />
<line x1="91.00" y1="320.20" x2="92.60" y2="320.20" stroke="#444" stroke-width="0.9" />
<rect x="86.30" y="319.50" width="3.2" height="1.4" fill="#b4b4b4"/>
<line x1="93.80" y1="385.20" x2="93.80" y2="387.00" stroke="#444" stroke-width="0.9" />
<rect x="94.40" y="388.80" width="3.2" height="1.8" fill="#b8b8b8"/>
<line x1="98.33" y1="385.20" x2="98.33" y2="386.20" stroke="#777" stroke-width="0.6" />
<line x1="100.98" y1="385.20" x2="100.98" y2="386.20" stroke="#777" stroke-width="0.6" />
<line x1="102.86" y1="385.20" x2="102.86" y2="386.20" stroke="#777" stroke-width="0.6" />
<line x1="104.32" y1="385.20" x2="104.32" y2="386.20" stroke="#777" stroke-width="0.6" />
<line x1="105.51" y1="385.20" x2="105.51" y2="386.20" stroke="#777" stroke-width="0.6" />
<line x1="106.52" y1="385.20" x2="106.52" y2="386.20" stroke="#777" stroke-width="0.6" />
<line x1="107.39" y1="385.20" x2="107.39" y2="386.20" stroke="#777" stroke-width="0.6" />
<line x1="108.16" y1="385.20" x2="108.16" y2="386.20" stroke="#777" stroke-width="0.6" />
<line x1="108.85" y1="385.20" x2="108.85" y2="387.00" stroke="#444" stroke-width="0.9" />
<rect x="109.45" y="388.80" width="3.2" height="1.8" fill="#b8b8b8"/>
<line x1="113.38" y1="385.20" x2="113.38" y2="386.20" stroke="#777" stroke-width="0.6" />
<line x1="116.03" y1="385.20" x2="116.03" y2="386.20" stroke="#777" stroke-width="0.6" />
<line x1="117.91" y1="385.20" x2="117.91" y2="386.20" stroke="#777" stroke-width="0.6" />
<line x1="119.37" y1="385.20" x2="119.37" y2="386.20" stroke="#777" stroke-width="0.6" />
<line x1="120.56" y1="385.20" x2="120.56" y2="386.20" stroke="#777" stroke-width="0.6" />
<line x1="121.57" y1="385.20" x2="121.57" y2="386.20" stroke="#777" stroke-width="0.6" />
<line x1="122.44" y1="385.20" x2="122.44" y2="386.20" stroke="#777" stroke-width="0.6" />
<line x1="123.21" y1="385.20" x2="123.21" y2="386.20" stroke="#777" stroke-width="0.6" />
<line x1="123.90" y1="385.20" x2="123.90" y2="387.00" stroke="#444" stroke-width="0.9" />
<rect x="124.50" y="388.80" width="3.2" height="1.8" fill="#b8b8b8"/>
<line x1="128.43" y1="385.20" x2="128.43" y2="386.20" stroke="#777" stroke-width="0.6" />
<line x1="131.08" y1="385.20" x2="131.08" y2="386.20" stroke="#777" stroke-width="0.6" />
<line x1="132.96" y1="385.20" x2="132.96" y2="386.20" stroke="#777" stroke-width="0.6" />
<line x1="134.42" y1="385.20" x2="134.42" y2="386.20" stroke="#777" stroke-width="0.6" />
<line x1="135.61" y1="385.20" x2="135.61" y2="386.20" stroke="#777" stroke-width="0.6" />
<line x1="136.62" y1="385.20" x2="136.62" y2="386.20" stroke="#777" stroke-width="0.6" />
<line x1="137.49" y1="385.20" x2="137.49" y2="386.20" stroke="#777" stroke-width="0.6" />
<line x1="138.26" y1="385.20" x2="138.26" y2="386.20" stroke="#777" stroke-width="0.6" />
<line x1="138.95" y1="385.20" x2="138.95" y2="387.00" stroke="#444" stroke-width="0.9" />
<rect x="139.55" y="388.80" width="3.2" height="1.8" fill="#b8b8b8"/>
<line x1="143.48" y1="385.20" x2="143.48" y2="386.20" stroke="#777" stroke-width="0.6" />
<line x1="146.13" y1="385.20" x2="146.13" y2="386.20" stroke="#777" stroke-width="0.6" />
<line x1="148.01" y1="385.20" x2="148.01" y2="386.20" stroke="#777" stroke-width="0.6" />
<line x1="149.47" y1="385.20" x2="149.47" y2="386.20" stroke="#777" stroke-width="0.6" />
<line x1="150.66" y1="385.20" x2="150.66" y2="386.20" stroke="#777" stroke-width="0.6" />
<line x1="151.67" y1="385.20" x2="151.67" y2="386.20" stroke="#777" stroke-width="0.6" />
<line x1="152.54" y1="385.20" x2="152.54" y2="386.20" stroke="#777" stroke-width="0.6" />
<line x1="153.31" y1="385.20" x2="153.31" y2="386.20" stroke="#777" stroke-width="0.6" />
<line x1="154.00" y1="385.20" x2="154.00" y2="387.00" stroke="#444" stroke-width="0.9" />
<rect x="154.60" y="388.80" width="3.2" height="1.8" fill="#b8b8b8"/>
<line x1="158.53" y1="385.20" x2="158.53" y2="386.20" stroke="#777" stroke-width="0.6" />
<clipPath id="hc3"><path d="M103.00,385.20 L103.00,385.20 L105.00,384.60 L107.70,381.30 L109.70,375.40 L111.60,362.30 L113.60,345.20 L114.90,334.70 L116.20,330.10 L117.50,328.10 L118.50,329.40 L119.50,336.00 L120.10,334.50 L120.80,336.70 L121.90,339.30 L122.40,337.50 L122.80,339.30 L123.90,341.30 L125.70,350.40 L127.90,363.60 L129.90,372.80 L132.00,380.60 L134.20,384.60 L135.80,385.20 L135.80,385.20 Z"/></clipPath>
<path d="M92.60,385.20 L92.60,385.20 L92.60,382.60 L94.60,385.00 L98.50,384.60 L101.10,382.60 L103.10,379.30 L104.40,374.10 L105.70,364.90 L107.00,349.10 L108.30,334.70 L109.40,326.80 L110.30,325.20 L111.40,328.10 L112.30,339.90 L112.90,349.10 L114.30,366.20 L115.60,376.70 L116.90,383.30 L118.20,385.20 L118.20,385.20 Z" fill="rgb(233,155,161)" stroke="#da6a74" stroke-width="0.7" stroke-linejoin="round"/>
<path d="M103.00,385.20 L103.00,385.20 L105.00,384.60 L107.70,381.30 L109.70,375.40 L111.60,362.30 L113.60,345.20 L114.90,334.70 L116.20,330.10 L117.50,328.10 L118.50,329.40 L119.50,336.00 L120.10,334.50 L120.80,336.70 L121.90,339.30 L122.40,337.50 L122.80,339.30 L123.90,341.30 L125.70,350.40 L127.90,363.60 L129.90,372.80 L132.00,380.60 L134.20,384.60 L135.80,385.20 L135.80,385.20 Z" fill="rgb(135,199,222)"/>
<path d="M92.60,385.20 L92.60,385.20 L92.60,382.60 L94.60,385.00 L98.50,384.60 L101.10,382.60 L103.10,379.30 L104.40,374.10 L105.70,364.90 L107.00,349.10 L108.30,334.70 L109.40,326.80 L110.30,325.20 L111.40,328.10 L112.30,339.90 L112.90,349.10 L114.30,366.20 L115.60,376.70 L116.90,383.30 L118.20,385.20 L118.20,385.20 Z" fill="rgb(128,163,186)" clip-path="url(#hc3)"/>
<path d="M103.00,385.20 L103.00,385.20 L105.00,384.60 L107.70,381.30 L109.70,375.40 L111.60,362.30 L113.60,345.20 L114.90,334.70 L116.20,330.10 L117.50,328.10 L118.50,329.40 L119.50,336.00 L120.10,334.50 L120.80,336.70 L121.90,339.30 L122.40,337.50 L122.80,339.30 L123.90,341.30 L125.70,350.40 L127.90,363.60 L129.90,372.80 L132.00,380.60 L134.20,384.60 L135.80,385.20 L135.80,385.20 Z" fill="none" stroke="#3aaed6" stroke-width="0.7" stroke-linejoin="round"/>
<rect x="184.3" y="317.2" width="68.20" height="68.10" fill="none" stroke="#8c8c8c" stroke-width="0.9"/>
<line x1="182.70" y1="384.80" x2="184.30" y2="384.80" stroke="#444" stroke-width="0.9" />
<rect x="178.00" y="384.10" width="3.2" height="1.4" fill="#b4b4b4"/>
<line x1="183.30" y1="381.57" x2="184.30" y2="381.57" stroke="#666" stroke-width="0.7" />
<line x1="183.30" y1="378.34" x2="184.30" y2="378.34" stroke="#666" stroke-width="0.7" />
<line x1="183.30" y1="375.11" x2="184.30" y2="375.11" stroke="#666" stroke-width="0.7" />
<line x1="182.70" y1="371.88" x2="184.30" y2="371.88" stroke="#444" stroke-width="0.9" />
<rect x="178.00" y="371.18" width="3.2" height="1.4" fill="#b4b4b4"/>
<line x1="183.30" y1="368.65" x2="184.30" y2="368.65" stroke="#666" stroke-width="0.7" />
<line x1="183.30" y1="365.42" x2="184.30" y2="365.42" stroke="#666" stroke-width="0.7" />
<line x1="183.30" y1="362.19" x2="184.30" y2="362.19" stroke="#666" stroke-width="0.7" />
<line x1="182.70" y1="358.96" x2="184.30" y2="358.96" stroke="#444" stroke-width="0.9" />
<rect x="178.00" y="358.26" width="3.2" height="1.4" fill="#b4b4b4"/>
<line x1="183.30" y1="355.73" x2="184.30" y2="355.73" stroke="#666" stroke-width="0.7" />
<line x1="183.30" y1="352.50" x2="184.30" y2="352.50" stroke="#666" stroke-width="0.7" />
<line x1="183.30" y1="349.27" x2="184.30" y2="349.27" stroke="#666" stroke-width="0.7" />
<line x1="182.70" y1="346.04" x2="184.30" y2="346.04" stroke="#444" stroke-width="0.9" />
<rect x="178.00" y="345.34" width="3.2" height="1.4" fill="#b4b4b4"/>
<line x1="183.30" y1="342.81" x2="184.30" y2="342.81" stroke="#666" stroke-width="0.7" />
<line x1="183.30" y1="339.58" x2="184.30" y2="339.58" stroke="#666" stroke-width="0.7" />
<line x1="183.30" y1="336.35" x2="184.30" y2="336.35" stroke="#666" stroke-width="0.7" />
<line x1="182.70" y1="333.12" x2="184.30" y2="333.12" stroke="#444" stroke-width="0.9" />
<rect x="178.00" y="332.42" width="3.2" height="1.4" fill="#b4b4b4"/>
<line x1="183.30" y1="329.89" x2="184.30" y2="329.89" stroke="#666" stroke-width="0.7" />
<line x1="183.30" y1="326.66" x2="184.30" y2="326.66" stroke="#666" stroke-width="0.7" />
<line x1="183.30" y1="323.43" x2="184.30" y2="323.43" stroke="#666" stroke-width="0.7" />
<line x1="182.70" y1="320.20" x2="184.30" y2="320.20" stroke="#444" stroke-width="0.9" />
<rect x="178.00" y="319.50" width="3.2" height="1.4" fill="#b4b4b4"/>
<line x1="185.50" y1="385.30" x2="185.50" y2="387.10" stroke="#444" stroke-width="0.9" />
<rect x="186.10" y="388.90" width="3.2" height="1.8" fill="#b8b8b8"/>
<line x1="190.03" y1="385.30" x2="190.03" y2="386.30" stroke="#777" stroke-width="0.6" />
<line x1="192.68" y1="385.30" x2="192.68" y2="386.30" stroke="#777" stroke-width="0.6" />
<line x1="194.56" y1="385.30" x2="194.56" y2="386.30" stroke="#777" stroke-width="0.6" />
<line x1="196.02" y1="385.30" x2="196.02" y2="386.30" stroke="#777" stroke-width="0.6" />
<line x1="197.21" y1="385.30" x2="197.21" y2="386.30" stroke="#777" stroke-width="0.6" />
<line x1="198.22" y1="385.30" x2="198.22" y2="386.30" stroke="#777" stroke-width="0.6" />
<line x1="199.09" y1="385.30" x2="199.09" y2="386.30" stroke="#777" stroke-width="0.6" />
<line x1="199.86" y1="385.30" x2="199.86" y2="386.30" stroke="#777" stroke-width="0.6" />
<line x1="200.55" y1="385.30" x2="200.55" y2="387.10" stroke="#444" stroke-width="0.9" />
<rect x="201.15" y="388.90" width="3.2" height="1.8" fill="#b8b8b8"/>
<line x1="205.08" y1="385.30" x2="205.08" y2="386.30" stroke="#777" stroke-width="0.6" />
<line x1="207.73" y1="385.30" x2="207.73" y2="386.30" stroke="#777" stroke-width="0.6" />
<line x1="209.61" y1="385.30" x2="209.61" y2="386.30" stroke="#777" stroke-width="0.6" />
<line x1="211.07" y1="385.30" x2="211.07" y2="386.30" stroke="#777" stroke-width="0.6" />
<line x1="212.26" y1="385.30" x2="212.26" y2="386.30" stroke="#777" stroke-width="0.6" />
<line x1="213.27" y1="385.30" x2="213.27" y2="386.30" stroke="#777" stroke-width="0.6" />
<line x1="214.14" y1="385.30" x2="214.14" y2="386.30" stroke="#777" stroke-width="0.6" />
<line x1="214.91" y1="385.30" x2="214.91" y2="386.30" stroke="#777" stroke-width="0.6" />
<line x1="215.60" y1="385.30" x2="215.60" y2="387.10" stroke="#444" stroke-width="0.9" />
<rect x="216.20" y="388.90" width="3.2" height="1.8" fill="#b8b8b8"/>
<line x1="220.13" y1="385.30" x2="220.13" y2="386.30" stroke="#777" stroke-width="0.6" />
<line x1="222.78" y1="385.30" x2="222.78" y2="386.30" stroke="#777" stroke-width="0.6" />
<line x1="224.66" y1="385.30" x2="224.66" y2="386.30" stroke="#777" stroke-width="0.6" />
<line x1="226.12" y1="385.30" x2="226.12" y2="386.30" stroke="#777" stroke-width="0.6" />
<line x1="227.31" y1="385.30" x2="227.31" y2="386.30" stroke="#777" stroke-width="0.6" />
<line x1="228.32" y1="385.30" x2="228.32" y2="386.30" stroke="#777" stroke-width="0.6" />
<line x1="229.19" y1="385.30" x2="229.19" y2="386.30" stroke="#777" stroke-width="0.6" />
<line x1="229.96" y1="385.30" x2="229.96" y2="386.30" stroke="#777" stroke-width="0.6" />
<line x1="230.65" y1="385.30" x2="230.65" y2="387.10" stroke="#444" stroke-width="0.9" />
<rect x="231.25" y="388.90" width="3.2" height="1.8" fill="#b8b8b8"/>
<line x1="235.18" y1="385.30" x2="235.18" y2="386.30" stroke="#777" stroke-width="0.6" />
<line x1="237.83" y1="385.30" x2="237.83" y2="386.30" stroke="#777" stroke-width="0.6" />
<line x1="239.71" y1="385.30" x2="239.71" y2="386.30" stroke="#777" stroke-width="0.6" />
<line x1="241.17" y1="385.30" x2="241.17" y2="386.30" stroke="#777" stroke-width="0.6" />
<line x1="242.36" y1="385.30" x2="242.36" y2="386.30" stroke="#777" stroke-width="0.6" />
<line x1="243.37" y1="385.30" x2="243.37" y2="386.30" stroke="#777" stroke-width="0.6" />
<line x1="244.24" y1="385.30" x2="244.24" y2="386.30" stroke="#777" stroke-width="0.6" />
<line x1="245.01" y1="385.30" x2="245.01" y2="386.30" stroke="#777" stroke-width="0.6" />
<line x1="245.70" y1="385.30" x2="245.70" y2="387.10" stroke="#444" stroke-width="0.9" />
<rect x="246.30" y="388.90" width="3.2" height="1.8" fill="#b8b8b8"/>
<line x1="250.23" y1="385.30" x2="250.23" y2="386.30" stroke="#777" stroke-width="0.6" />
<clipPath id="hc4"><path d="M195.00,385.30 L195.00,385.20 L197.10,384.60 L199.70,380.70 L201.70,371.50 L203.00,362.30 L204.30,354.40 L205.60,352.80 L206.90,354.40 L208.20,357.00 L209.50,361.60 L210.60,363.60 L211.80,361.00 L213.10,353.10 L214.40,342.60 L215.70,336.00 L216.80,334.70 L218.10,329.40 L219.10,327.50 L220.10,328.80 L221.00,327.10 L222.00,328.80 L223.10,327.50 L224.60,330.80 L226.00,333.40 L227.50,338.00 L228.90,341.30 L229.90,349.10 L231.20,361.00 L232.50,370.20 L233.80,376.70 L235.80,382.00 L237.80,384.60 L240.40,385.20 L240.40,385.30 Z"/></clipPath>
<path d="M184.30,385.30 L184.30,385.30 L184.30,382.70 L186.30,385.10 L190.20,384.70 L192.80,382.70 L194.80,379.40 L196.10,374.20 L197.40,365.00 L198.70,349.20 L200.00,334.80 L201.10,326.90 L202.00,325.30 L203.10,328.20 L204.00,340.00 L204.60,349.20 L206.00,366.30 L207.30,376.80 L208.60,383.40 L209.90,385.30 L209.90,385.30 Z" fill="rgb(233,155,161)" stroke="#da6a74" stroke-width="0.7" stroke-linejoin="round"/>
<path d="M195.00,385.30 L195.00,385.20 L197.10,384.60 L199.70,380.70 L201.70,371.50 L203.00,362.30 L204.30,354.40 L205.60,352.80 L206.90,354.40 L208.20,357.00 L209.50,361.60 L210.60,363.60 L211.80,361.00 L213.10,353.10 L214.40,342.60 L215.70,336.00 L216.80,334.70 L218.10,329.40 L219.10,327.50 L220.10,328.80 L221.00,327.10 L222.00,328.80 L223.10,327.50 L224.60,330.80 L226.00,333.40 L227.50,338.00 L228.90,341.30 L229.90,349.10 L231.20,361.00 L232.50,370.20 L233.80,376.70 L235.80,382.00 L237.80,384.60 L240.40,385.20 L240.40,385.30 Z" fill="rgb(135,199,222)"/>
<path d="M184.30,385.30 L184.30,385.30 L184.30,382.70 L186.30,385.10 L190.20,384.70 L192.80,382.70 L194.80,379.40 L196.10,374.20 L197.40,365.00 L198.70,349.20 L200.00,334.80 L201.10,326.90 L202.00,325.30 L203.10,328.20 L204.00,340.00 L204.60,349.20 L206.00,366.30 L207.30,376.80 L208.60,383.40 L209.90,385.30 L209.90,385.30 Z" fill="rgb(128,163,186)" clip-path="url(#hc4)"/>
<path d="M195.00,385.30 L195.00,385.20 L197.10,384.60 L199.70,380.70 L201.70,371.50 L203.00,362.30 L204.30,354.40 L205.60,352.80 L206.90,354.40 L208.20,357.00 L209.50,361.60 L210.60,363.60 L211.80,361.00 L213.10,353.10 L214.40,342.60 L215.70,336.00 L216.80,334.70 L218.10,329.40 L219.10,327.50 L220.10,328.80 L221.00,327.10 L222.00,328.80 L223.10,327.50 L224.60,330.80 L226.00,333.40 L227.50,338.00 L228.90,341.30 L229.90,349.10 L231.20,361.00 L232.50,370.20 L233.80,376.70 L235.80,382.00 L237.80,384.60 L240.40,385.20 L240.40,385.30 Z" fill="none" stroke="#3aaed6" stroke-width="0.7" stroke-linejoin="round"/>
<text transform="translate(83.30,259.65) rotate(-90)" font-size="9.6" text-anchor="middle" fill="#231815">Counts</text>
<text transform="translate(174.40,260.05) rotate(-90)" font-size="9.6" text-anchor="middle" fill="#231815">Counts</text>
<text transform="translate(83.90,351.40) rotate(-90)" font-size="9.6" text-anchor="middle" fill="#231815">Counts</text>
<text transform="translate(173.90,351.15) rotate(-90)" font-size="9.6" text-anchor="middle" fill="#231815">Counts</text>
<text x="126.90" y="309.80" font-size="10" text-anchor="middle" font-weight="normal" fill="#231815" >FITC</text>
<text x="217.10" y="309.80" font-size="10" text-anchor="middle" font-weight="normal" fill="#231815" >FITC</text>
<text x="126.90" y="404.80" font-size="10" text-anchor="middle" font-weight="normal" fill="#231815" >FITC</text>
<text x="217.10" y="404.80" font-size="10" text-anchor="middle" font-weight="normal" fill="#231815" >FITC</text>
<text transform="translate(10.6,423.9) scale(0.93,1)" font-size="20.3" fill="#231815" stroke="#231815" stroke-width="0.75">C</text>
<line x1="95.00" y1="455.00" x2="95.00" y2="560.50" stroke="#4a4a4a" stroke-width="1.3" />
<line x1="91.20" y1="557.00" x2="95.00" y2="557.00" stroke="#4a4a4a" stroke-width="1.2" />
<text x="86.30" y="561.70" font-size="11.2" text-anchor="end" font-weight="normal" fill="#231815" >0</text>
<line x1="91.20" y1="536.72" x2="95.00" y2="536.72" stroke="#4a4a4a" stroke-width="1.2" />
<text x="86.30" y="541.42" font-size="11.2" text-anchor="end" font-weight="normal" fill="#231815" >1</text>
<line x1="91.20" y1="516.44" x2="95.00" y2="516.44" stroke="#4a4a4a" stroke-width="1.2" />
<text x="86.30" y="521.14" font-size="11.2" text-anchor="end" font-weight="normal" fill="#231815" >2</text>
<line x1="91.20" y1="496.16" x2="95.00" y2="496.16" stroke="#4a4a4a" stroke-width="1.2" />
<text x="86.30" y="500.86" font-size="11.2" text-anchor="end" font-weight="normal" fill="#231815" >3</text>
<line x1="91.20" y1="475.88" x2="95.00" y2="475.88" stroke="#4a4a4a" stroke-width="1.2" />
<text x="86.30" y="480.58" font-size="11.2" text-anchor="end" font-weight="normal" fill="#231815" >4</text>
<line x1="91.20" y1="455.60" x2="95.00" y2="455.60" stroke="#4a4a4a" stroke-width="1.2" />
<text x="86.30" y="460.30" font-size="11.2" text-anchor="end" font-weight="normal" fill="#231815" >5</text>
<line x1="95.00" y1="557.00" x2="247.50" y2="557.00" stroke="#4a4a4a" stroke-width="1.4" />
<line x1="95.00" y1="557.00" x2="95.00" y2="560.50" stroke="#4a4a4a" stroke-width="1.2" />
<text x="95.00" y="573.90" font-size="11.5" text-anchor="middle" font-weight="normal" fill="#231815" >1</text>
<line x1="145.50" y1="557.00" x2="145.50" y2="560.50" stroke="#4a4a4a" stroke-width="1.2" />
<text x="145.50" y="573.90" font-size="11.5" text-anchor="middle" font-weight="normal" fill="#231815" >2</text>
<line x1="196.50" y1="557.00" x2="196.50" y2="560.50" stroke="#4a4a4a" stroke-width="1.2" />
<text x="196.50" y="573.90" font-size="11.5" text-anchor="middle" font-weight="normal" fill="#231815" >3</text>
<line x1="247.00" y1="557.00" x2="247.00" y2="560.50" stroke="#4a4a4a" stroke-width="1.2" />
<text x="247.00" y="573.90" font-size="11.5" text-anchor="middle" font-weight="normal" fill="#231815" >4</text>
<text x="173.20" y="591.00" font-size="12" text-anchor="middle" font-weight="normal" fill="#231815" >Days</text>
<text transform="translate(62.5,498.6) rotate(-90) scale(1.212,1)" font-size="10" text-anchor="middle" fill="#231815">Relative cell proliferation</text>
<polyline points="95,536.7 145.5,528.9 196.5,506.9 247,470.6" fill="none" stroke="#2a2a2a" stroke-width="0.85"/>
<polyline points="95,536.7 145.5,532.5 196.5,513.4 247,478.4" fill="none" stroke="#2a2a2a" stroke-width="0.85"/>
<circle cx="95" cy="536.7" r="2" fill="#111"/>
<circle cx="145.5" cy="528.9" r="2" fill="#111"/>
<circle cx="196.5" cy="506.9" r="2" fill="#111"/>
<circle cx="247" cy="470.6" r="2" fill="#111"/>
<rect x="93.1" y="534.8000000000001" width="3.8" height="3.8" fill="#111"/>
<rect x="143.6" y="530.6" width="3.8" height="3.8" fill="#111"/>
<rect x="194.6" y="511.5" width="3.8" height="3.8" fill="#111"/>
<rect x="245.1" y="476.5" width="3.8" height="3.8" fill="#111"/>
<line x1="247.00" y1="475.50" x2="247.00" y2="481.20" stroke="#111" stroke-width="1.0" />
<line x1="245.60" y1="475.60" x2="248.40" y2="475.60" stroke="#111" stroke-width="0.8" />
<line x1="245.60" y1="481.10" x2="248.40" y2="481.10" stroke="#111" stroke-width="0.8" />
<text x="237.40" y="460.90" font-size="12" text-anchor="start" font-weight="normal" fill="#231815" >P = 0.025</text>
<line x1="262.20" y1="470.70" x2="272.70" y2="470.70" stroke="#333" stroke-width="0.8" />
<circle cx="267.6" cy="470.7" r="1.9" fill="#111"/>
<text x="280.80" y="474.60" font-size="12" text-anchor="start" font-weight="normal" fill="#231815" >Dunn Meflin CTL</text>
<line x1="262.20" y1="484.90" x2="272.70" y2="484.90" stroke="#333" stroke-width="0.8" />
<rect x="265.8" y="483.1" width="3.6" height="3.6" fill="#111"/>
<text x="281.20" y="490.00" font-size="12" text-anchor="start" font-weight="normal" fill="#231815" >Dunn Meflin KO</text>
<line x1="429.10" y1="457.50" x2="429.10" y2="560.50" stroke="#4a4a4a" stroke-width="1.3" />
<line x1="425.30" y1="557.00" x2="429.10" y2="557.00" stroke="#4a4a4a" stroke-width="1.2" />
<text x="423.00" y="561.70" font-size="11.2" text-anchor="end" font-weight="normal" fill="#231815" >0</text>
<line x1="425.30" y1="532.27" x2="429.10" y2="532.27" stroke="#4a4a4a" stroke-width="1.2" />
<text x="423.00" y="536.98" font-size="11.2" text-anchor="end" font-weight="normal" fill="#231815" >1</text>
<line x1="425.30" y1="507.55" x2="429.10" y2="507.55" stroke="#4a4a4a" stroke-width="1.2" />
<text x="423.00" y="512.25" font-size="11.2" text-anchor="end" font-weight="normal" fill="#231815" >2</text>
<line x1="425.30" y1="482.83" x2="429.10" y2="482.83" stroke="#4a4a4a" stroke-width="1.2" />
<text x="423.00" y="487.53" font-size="11.2" text-anchor="end" font-weight="normal" fill="#231815" >3</text>
<line x1="425.30" y1="458.10" x2="429.10" y2="458.10" stroke="#4a4a4a" stroke-width="1.2" />
<text x="423.00" y="462.80" font-size="11.2" text-anchor="end" font-weight="normal" fill="#231815" >4</text>
<line x1="429.10" y1="557.00" x2="577.30" y2="557.00" stroke="#4a4a4a" stroke-width="1.4" />
<line x1="429.10" y1="557.00" x2="429.10" y2="560.50" stroke="#4a4a4a" stroke-width="1.2" />
<text x="429.10" y="573.90" font-size="11.5" text-anchor="middle" font-weight="normal" fill="#231815" >1</text>
<line x1="478.40" y1="557.00" x2="478.40" y2="560.50" stroke="#4a4a4a" stroke-width="1.2" />
<text x="478.40" y="573.90" font-size="11.5" text-anchor="middle" font-weight="normal" fill="#231815" >2</text>
<line x1="527.40" y1="557.00" x2="527.40" y2="560.50" stroke="#4a4a4a" stroke-width="1.2" />
<text x="527.40" y="573.90" font-size="11.5" text-anchor="middle" font-weight="normal" fill="#231815" >3</text>
<line x1="576.80" y1="557.00" x2="576.80" y2="560.50" stroke="#4a4a4a" stroke-width="1.2" />
<text x="576.80" y="573.90" font-size="11.5" text-anchor="middle" font-weight="normal" fill="#231815" >4</text>
<text x="509.60" y="590.60" font-size="12" text-anchor="middle" font-weight="normal" fill="#231815" >Days</text>
<text transform="translate(401.0,507.25) rotate(-90) scale(1.2,1)" font-size="10" text-anchor="middle" fill="#231815">Relative cell proliferation</text>
<polyline points="429.1,532.2 478.4,532.1 527.4,512 576.8,472.8" fill="none" stroke="#2a2a2a" stroke-width="0.85"/>
<circle cx="429.1" cy="532.2" r="2" fill="#111"/>
<rect x="427.20000000000005" y="530.3000000000001" width="3.8" height="3.8" fill="#111"/>
<circle cx="478.4" cy="532.1" r="2" fill="#111"/>
<rect x="476.5" y="530.2" width="3.8" height="3.8" fill="#111"/>
<circle cx="527.4" cy="512" r="2" fill="#111"/>
<rect x="525.5" y="510.1" width="3.8" height="3.8" fill="#111"/>
<circle cx="576.8" cy="472.8" r="2" fill="#111"/>
<rect x="574.9" y="470.90000000000003" width="3.8" height="3.8" fill="#111"/>
<line x1="576.80" y1="469.50" x2="576.80" y2="476.90" stroke="#111" stroke-width="0.8" />
<line x1="574.30" y1="469.50" x2="579.30" y2="469.50" stroke="#111" stroke-width="0.9" />
<line x1="574.30" y1="476.90" x2="579.30" y2="476.90" stroke="#111" stroke-width="0.9" />
<line x1="527.40" y1="510.00" x2="527.40" y2="514.00" stroke="#111" stroke-width="0.8" />
<line x1="525.80" y1="510.00" x2="529.00" y2="510.00" stroke="#111" stroke-width="0.8" />
<line x1="525.80" y1="514.00" x2="529.00" y2="514.00" stroke="#111" stroke-width="0.8" />
<text x="576.70" y="461.00" font-size="12" text-anchor="middle" font-weight="normal" fill="#231815" >N.S.</text>
<line x1="594.10" y1="473.10" x2="604.50" y2="473.10" stroke="#333" stroke-width="0.8" />
<circle cx="599.2" cy="473.1" r="1.9" fill="#111"/>
<text x="610.50" y="477.00" font-size="12" text-anchor="start" font-weight="normal" fill="#231815" >143B-EGFP</text>
<line x1="594.10" y1="486.90" x2="604.50" y2="486.90" stroke="#333" stroke-width="0.8" />
<rect x="597.4" y="485.1" width="3.6" height="3.6" fill="#111"/>
<text x="610.50" y="490.90" font-size="12" text-anchor="start" font-weight="normal" fill="#231815" >143B-hMeflin</text>
</svg></body></html>
